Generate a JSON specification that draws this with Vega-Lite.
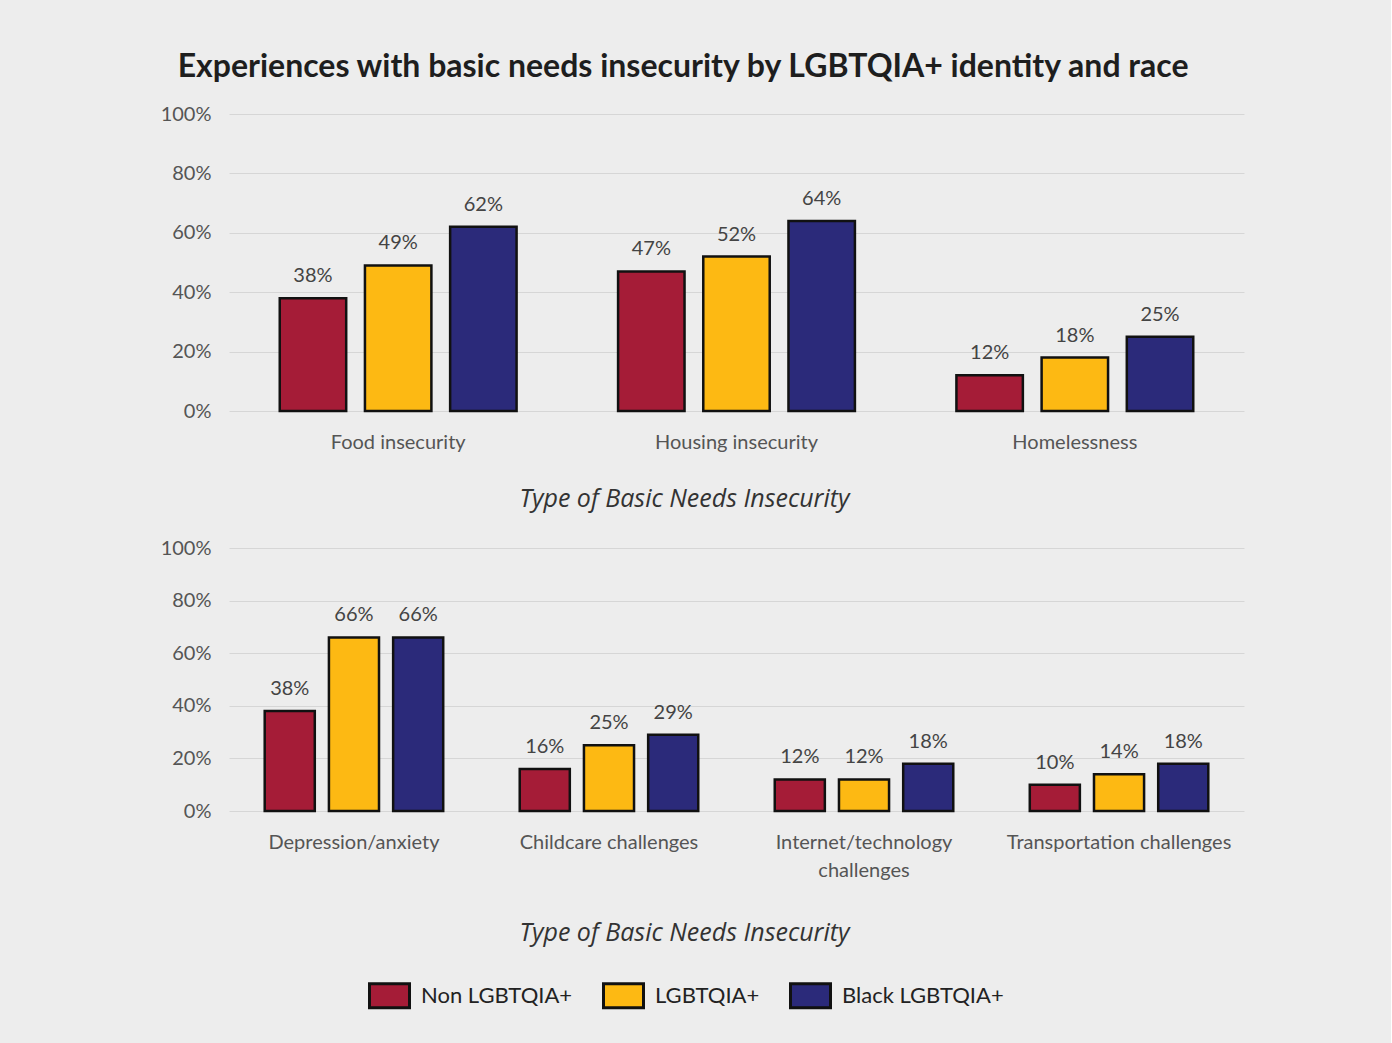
{
  "$schema": "https://vega.github.io/schema/vega-lite/v6.json",
  "background": "#ededed",
  "padding": {"left": 160, "top": 51, "right": 147, "bottom": 100},
  "title": {
    "text": "Experiences with basic needs insecurity by LGBTQIA+ identity and race",
    "font": "Lato",
    "fontSize": 32,
    "fontWeight": "bold",
    "color": "#1e1e1e",
    "anchor": "middle",
    "dx": -19,
    "offset": 20
  },
  "datasets": {
    "bars": [
      {"panel": "top", "type": "Food insecurity", "group": "Non LGBTQIA+", "value": 0.38},
      {"panel": "top", "type": "Food insecurity", "group": "LGBTQIA+", "value": 0.49},
      {"panel": "top", "type": "Food insecurity", "group": "Black LGBTQIA+", "value": 0.62},
      {"panel": "top", "type": "Housing insecurity", "group": "Non LGBTQIA+", "value": 0.47},
      {"panel": "top", "type": "Housing insecurity", "group": "LGBTQIA+", "value": 0.52},
      {"panel": "top", "type": "Housing insecurity", "group": "Black LGBTQIA+", "value": 0.64},
      {"panel": "top", "type": "Homelessness", "group": "Non LGBTQIA+", "value": 0.12},
      {"panel": "top", "type": "Homelessness", "group": "LGBTQIA+", "value": 0.18},
      {"panel": "top", "type": "Homelessness", "group": "Black LGBTQIA+", "value": 0.25},
      {"panel": "bottom", "type": "Depression/anxiety", "group": "Non LGBTQIA+", "value": 0.38},
      {"panel": "bottom", "type": "Depression/anxiety", "group": "LGBTQIA+", "value": 0.66},
      {"panel": "bottom", "type": "Depression/anxiety", "group": "Black LGBTQIA+", "value": 0.66},
      {"panel": "bottom", "type": "Childcare challenges", "group": "Non LGBTQIA+", "value": 0.16},
      {"panel": "bottom", "type": "Childcare challenges", "group": "LGBTQIA+", "value": 0.25},
      {"panel": "bottom", "type": "Childcare challenges", "group": "Black LGBTQIA+", "value": 0.29},
      {"panel": "bottom", "type": "Internet/technology challenges", "group": "Non LGBTQIA+", "value": 0.12},
      {"panel": "bottom", "type": "Internet/technology challenges", "group": "LGBTQIA+", "value": 0.12},
      {"panel": "bottom", "type": "Internet/technology challenges", "group": "Black LGBTQIA+", "value": 0.18},
      {"panel": "bottom", "type": "Transportation challenges", "group": "Non LGBTQIA+", "value": 0.10},
      {"panel": "bottom", "type": "Transportation challenges", "group": "LGBTQIA+", "value": 0.14},
      {"panel": "bottom", "type": "Transportation challenges", "group": "Black LGBTQIA+", "value": 0.18}
    ]
  },
  "data": {"name": "bars"},
  "spacing": 27,
  "resolve": {"scale": {"xOffset": "independent", "x": "independent"}},
  "vconcat": [
    {
      "width": 1015,
      "height": 297,
      "transform": [{"filter": "datum.panel === 'top'"}],
      "encoding": {
        "x": {
          "field": "type", "type": "nominal",
          "sort": ["Food insecurity", "Housing insecurity", "Homelessness"],
          "scale": {"paddingInner": 0.3, "paddingOuter": 0.15},
          "axis": {"title": "Type of Basic Needs Insecurity", "titleX": 455}
        },
        "xOffset": {
          "field": "group", "type": "nominal",
          "sort": ["Non LGBTQIA+", "LGBTQIA+", "Black LGBTQIA+"],
          "scale": {"paddingInner": 0.22}
        },
        "y": {
          "field": "value", "type": "quantitative",
          "scale": {"domain": [0, 1]},
          "axis": {"title": null, "format": ".0%", "values": [0, 0.2, 0.4, 0.6, 0.8, 1]}
        }
      },
      "layer": [
        {
          "mark": {"type": "bar", "stroke": "#111111", "strokeWidth": 2.5},
          "encoding": {
            "color": {
              "field": "group", "type": "nominal",
              "sort": ["Non LGBTQIA+", "LGBTQIA+", "Black LGBTQIA+"],
              "scale": {"domain": ["Non LGBTQIA+", "LGBTQIA+", "Black LGBTQIA+"], "range": ["#a51c37", "#fdb913", "#2b2a7a"]}
            }
          }
        },
        {
          "mark": {"type": "text", "baseline": "bottom", "dy": -12, "font": "Lato", "fontSize": 20, "color": "#444444"},
          "encoding": {"text": {"field": "value", "type": "quantitative", "format": ".0%"}}
        }
      ]
    },
    {
      "width": 1015,
      "height": 263,
      "transform": [{"filter": "datum.panel === 'bottom'"}],
      "encoding": {
        "x": {
          "field": "type", "type": "nominal",
          "sort": ["Depression/anxiety", "Childcare challenges", "Internet/technology challenges", "Transportation challenges"],
          "scale": {"paddingInner": 0.3, "paddingOuter": 0.14},
          "axis": {
            "title": "Type of Basic Needs Insecurity", "titleX": 455, "titlePadding": 40,
            "labelExpr": "datum.value === 'Internet/technology challenges' ? ['Internet/technology', 'challenges'] : datum.value"
          }
        },
        "xOffset": {
          "field": "group", "type": "nominal",
          "sort": ["Non LGBTQIA+", "LGBTQIA+", "Black LGBTQIA+"],
          "scale": {"paddingInner": 0.22}
        },
        "y": {
          "field": "value", "type": "quantitative",
          "scale": {"domain": [0, 1]},
          "axis": {"title": null, "format": ".0%", "values": [0, 0.2, 0.4, 0.6, 0.8, 1]}
        }
      },
      "layer": [
        {
          "mark": {"type": "bar", "stroke": "#111111", "strokeWidth": 2.5},
          "encoding": {
            "color": {
              "field": "group", "type": "nominal",
              "sort": ["Non LGBTQIA+", "LGBTQIA+", "Black LGBTQIA+"],
              "scale": {"domain": ["Non LGBTQIA+", "LGBTQIA+", "Black LGBTQIA+"], "range": ["#a51c37", "#fdb913", "#2b2a7a"]}
            }
          }
        },
        {
          "mark": {"type": "text", "baseline": "bottom", "dy": -12, "font": "Lato", "fontSize": 20, "color": "#444444"},
          "encoding": {"text": {"field": "value", "type": "quantitative", "format": ".0%"}}
        }
      ]
    }
  ],
  "config": {
    "view": {"stroke": null},
    "legend": {
      "title": null,
      "orient": "none",
      "direction": "horizontal",
      "legendX": 139,
      "legendY": 860,
      "symbolType": "M-1,-0.6H1V0.6H-1Z",
      "symbolSize": 1600,
      "symbolStrokeColor": "#111111",
      "symbolStrokeWidth": 3,
      "symbolOpacity": 1,
      "labelFont": "Lato",
      "labelFontSize": 22,
      "labelColor": "#222222",
      "labelOffset": 10,
      "columnPadding": 24,
      "labelLimit": 300
    },
    "axis": {
      "labelFont": "Lato",
      "labelFontSize": 20,
      "labelColor": "#555555",
      "titleFont": "Open Sans",
      "titleFontSize": 25,
      "titleFontStyle": "italic",
      "titleFontWeight": "normal",
      "titleColor": "#333333"
    },
    "axisX": {
      "domain": false,
      "ticks": false,
      "labelAngle": 0,
      "labelPadding": 31,
      "labelBaseline": "middle",
      "titlePadding": 34,
      "labelLimit": 400,
      "labelLineHeight": 28
    },
    "axisY": {
      "domain": false,
      "ticks": false,
      "labelPadding": 18,
      "gridColor": "#d6d6d6",
      "gridWidth": 1
    }
  }
}
